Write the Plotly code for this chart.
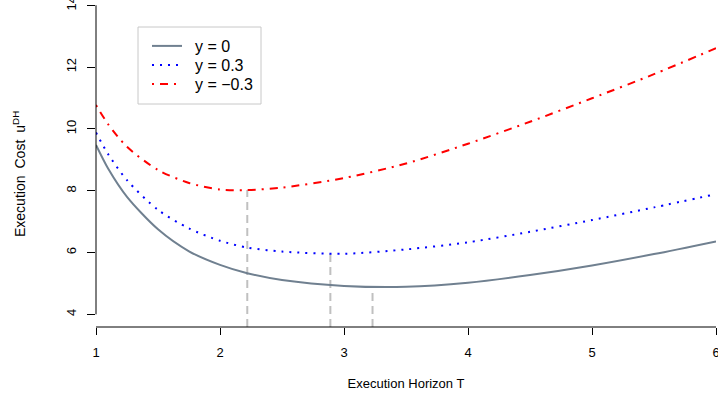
import plotly.graph_objects as go

# ---- data ----
horizon_T = [1.0, 1.1, 1.25, 1.5, 1.75, 2.0, 2.22, 2.5, 3.0, 3.5, 4.0, 4.5, 5.0, 5.5, 6.0]
cost_y0 = [9.48, 8.70, 7.80, 6.75, 6.04, 5.60, 5.33, 5.11, 4.92, 4.89, 5.02, 5.27, 5.58, 5.95, 6.36]
cost_y03 = [9.88, 9.17, 8.34, 7.38, 6.78, 6.38, 6.16, 6.03, 5.96, 6.10, 6.33, 6.67, 7.05, 7.46, 7.89]
cost_ym03 = [10.77, 10.14, 9.42, 8.67, 8.25, 8.04, 8.02, 8.10, 8.41, 8.88, 9.52, 10.23, 10.99, 11.77, 12.61]

min_T = [3.23, 2.89, 2.22]
min_cost = [4.86, 5.95, 8.02]

series_names = ["y = 0", "y = 0.3", "y = \u22120.3"]

x_ticks = [1, 2, 3, 4, 5, 6]
y_ticks = [4, 6, 8, 10, 12, 14]

x_range = [1, 6]
y_range = [3.59, 14.17]

FONT = "Liberation Sans, Arial, sans-serif"
PLOT_W, PLOT_H = 620, 327

fig = go.Figure()

# dashed markers at minima
for t, c in zip(min_T, min_cost):
    fig.add_trace(go.Scatter(
        x=[t, t], y=[y_range[0], c], mode="lines",
        line=dict(color="#c0c0c0", width=2, dash="8px,5px"),
        showlegend=False, hoverinfo="skip", cliponaxis=False))

styles = [
    dict(color="#708090", width=2, shape="spline", smoothing=0.8),
    dict(color="#0000ff", width=2, shape="spline", smoothing=0.8, dash="2px,6px"),
    dict(color="#ff0000", width=2, shape="spline", smoothing=0.8, dash="2px,6px,8px,6px"),
]
legend_ids = ["legend", "legend2", "legend3"]
row_centers = [45.5, 64.5, 83.5]  # px from plot top

for vals, name, st, lid in zip([cost_y0, cost_y03, cost_ym03], series_names, styles, legend_ids):
    fig.add_trace(go.Scatter(x=horizon_T, y=vals, mode="lines", name="\u2002" + name,
                             line=st, legend=lid))

legend_common = dict(xanchor="left", yanchor="top", bgcolor="rgba(0,0,0,0)", borderwidth=0,
                     font=dict(family=FONT, size=16, color="black"))
legend_layout = {}
for lid, rc in zip(legend_ids, row_centers):
    legend_layout[lid] = dict(x=(147 - 96) / PLOT_W, y=1 - (rc - 16.5) / PLOT_H, **legend_common)

fig.update_layout(
    width=718, height=396,
    margin=dict(l=96, r=2, t=0, b=69, pad=0),
    paper_bgcolor="white", plot_bgcolor="white",
    font=dict(family=FONT, size=13, color="black"),
    showlegend=True,
    xaxis=dict(
        range=x_range, tickvals=x_ticks, ticktext=[str(v) for v in x_ticks],
        showgrid=False, zeroline=False, showline=False, automargin=False,
        ticks="outside", ticklen=7, tickcolor="black", tickwidth=1,
        ticklabelstandoff=6, ticklabeloverflow="allow",
        tickfont=dict(family=FONT, size=13, color="black"),
        title=dict(text="Execution Horizon T", font=dict(family=FONT, size=13, color="black"), standoff=20),
    ),
    yaxis=dict(
        range=y_range, tickvals=y_ticks, ticktext=[str(v) for v in y_ticks],
        showgrid=False, zeroline=False, showline=False, automargin=False,
        ticks="outside", ticklen=8, tickcolor="black", tickwidth=1,
        tickangle=-90, ticklabelstandoff=6, ticklabeloverflow="allow",
        tickfont=dict(family=FONT, size=13, color="black"),
    ),
    shapes=[
        # legend frame
        dict(type="rect", xref="paper", yref="paper",
             x0=(138 - 96) / PLOT_W, x1=(261 - 96) / PLOT_W,
             y0=1 - 104 / PLOT_H, y1=1 - 27 / PLOT_H,
             line=dict(color="#c8c8c8", width=1), fillcolor="white", layer="above"),
        dict(type="line", xref="paper", yref="y", x0=0, x1=0, y0=y_ticks[0], y1=y_ticks[-1],
             line=dict(color="black", width=1)),
        dict(type="line", xref="x", yref="paper", x0=x_ticks[0], x1=x_ticks[-1], y0=0, y1=0,
             line=dict(color="black", width=1)),
    ],
    annotations=[
        dict(text="Execution\u2002Cost\u2002u<sup>DH</sup>", textangle=-90,
             xref="paper", yref="paper", x=(19 - 96) / PLOT_W, y=1 - 174 / PLOT_H,
             xanchor="center", yanchor="middle", showarrow=False,
             font=dict(family=FONT, size=14, color="black")),
    ],
    **legend_layout,
)

fig.write_html("out.html", post_script="document.body.style.margin='0px';",
               config={"displayModeBar": False})
